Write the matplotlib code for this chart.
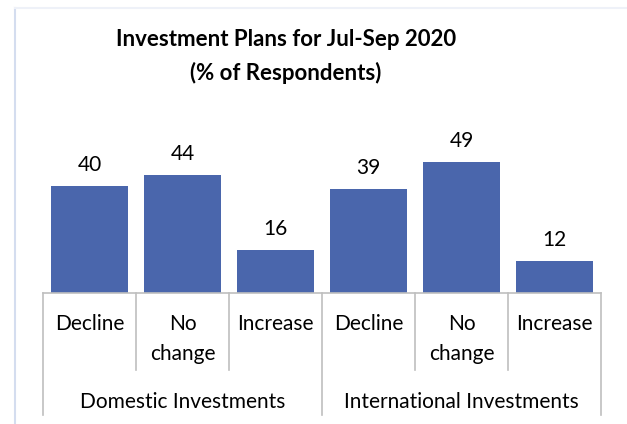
import matplotlib.pyplot as plt
from matplotlib.lines import Line2D

plt.rcParams['font.family'] = ['Lato', 'DejaVu Sans']

# survey shares per plan, two groups of three
groups = ["Domestic Investments", "International Investments"]
plans = ["Decline", "No\nchange", "Increase"]
domestic = [40, 44, 16]
international = [39, 49, 12]

values = domestic + international
labels = plans + plans

W, H = 627, 424
fig = plt.figure(figsize=(W / 100, H / 100), dpi=100)

# plot area in pixels
left, right, base, top = 43, 601, 293, 146
ax = fig.add_axes([left / W, 1 - base / H, (right - left) / W, (base - top) / H])
ax_h = base - top

bar_color = "#4a66ac"
grid_color = "#bfbfbf"

x = list(range(len(values)))
bars = ax.bar(x, values, width=0.82, color=bar_color)
for rect, v in zip(bars, values):
    ax.annotate(str(v), (rect.get_x() + rect.get_width() / 2, v),
                xytext=(0, 8), textcoords="offset points",
                ha="center", va="bottom", fontsize=15, color="#000000")

ax.set_xlim(-0.5, len(values) - 0.5)
ax.set_ylim(0, 55)
ax.axis("off")

# category axis: baseline, separators and two levels of labels
trans = ax.get_xaxis_transform()
def px(yp):
    return (base - yp) / ax_h

ax.plot([-0.5, len(values) - 0.5], [0, 0], transform=trans, color=grid_color,
        lw=1.2, clip_on=False)
for i in range(len(values) + 1):
    xs = i - 0.5
    end = 415 if i % 3 == 0 else 370
    ax.plot([xs, xs], [0, px(end)], transform=trans, color=grid_color,
            lw=1.2, clip_on=False)

for i, lab in enumerate(labels):
    ax.text(i, px(314), lab, transform=trans, ha="center", va="top",
            fontsize=15, linespacing=1.62)

for g, name in enumerate(groups):
    ax.text(g * 3 + 1, px(402), name, transform=trans, ha="center",
            va="center", fontsize=15)

fig.text(286 / W, 1 - 40 / H, "Investment Plans for Jul-Sep 2020",
         ha="center", va="center", fontsize=16, fontweight="bold")
fig.text(286 / W, 1 - 73 / H, "(% of Respondents)",
         ha="center", va="center", fontsize=16, fontweight="bold")

# thin frame at the left and top edges
fig.add_artist(Line2D([14.5 / W, 14.5 / W], [0, 1 - 8 / H], color="#d4ddef", lw=1.5))
fig.add_artist(Line2D([14.5 / W, 1], [1 - 8 / H, 1 - 8 / H], color="#eef1f8", lw=1.5))

fig.savefig("out.png", dpi=100)
